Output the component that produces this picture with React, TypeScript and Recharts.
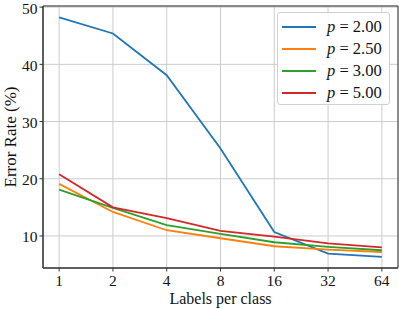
import React from 'react'
import {
  LineChart,
  Line,
  XAxis,
  YAxis,
  CartesianGrid,
  Legend,
  ReferenceArea,
  Label,
} from 'recharts'

// labels per class (log-spaced x axis)
const labelsPerClass = [1, 2, 4, 8, 16, 32, 64]
const minorTicks = [0.9, 3, 5, 6, 7, 9, 10, 20, 30, 40, 50, 60, 70]
const yTicks = [10, 20, 30, 40, 50]

// error rate (%) for each p
const pValues = [2, 2.5, 3, 5]
const errP200 = [48.2, 45.4, 38.1, 25.3, 10.7, 6.9, 6.35]
const errP250 = [19.1, 14.2, 11.0, 9.6, 8.2, 7.6, 7.2]
const errP300 = [18.1, 14.9, 11.9, 10.35, 8.9, 8.1, 7.5]
const errP500 = [20.8, 15.0, 13.1, 10.9, 9.9, 8.7, 8.0]

const colors = ['#1f77b4', '#ff7f0e', '#2ca02c', '#d62728']
const seriesKeys = ['p200', 'p250', 'p300', 'p500']

const data = labelsPerClass.map((x, i) => ({
  x,
  p200: errP200[i],
  p250: errP250[i],
  p300: errP300[i],
  p500: errP500[i],
}))

const X_DOMAIN: [number, number] = [Math.pow(2, -0.3), Math.pow(2, 6.3)]
const Y_DOMAIN: [number, number] = [4.4, 50.2]

const FONT = '"Liberation Serif", "DejaVu Serif", serif'
const tickStyle = { fontSize: 15.5, fill: '#111', fontFamily: FONT }

function LegendBox() {
  return (
    <div
      style={{
        width: 113,
        height: 93,
        boxSizing: 'border-box',
        border: '1px solid #d0d0d0',
        borderRadius: 3,
        background: 'rgba(255,255,255,0.85)',
        padding: '3px 0 0 4px',
        fontFamily: FONT,
        fontSize: 16.5,
        color: '#111',
      }}
    >
      {pValues.map((p, i) => (
        <div key={p} style={{ display: 'flex', alignItems: 'center', height: 22 }}>
          <div style={{ width: 34, height: 2, background: colors[i], marginRight: 11 }} />
          <span><i>p</i> = {p.toFixed(2)}</span>
        </div>
      ))}
    </div>
  )
}

export default function App() {
  return (
    <div style={{ position: 'absolute', left: 0, top: 0 }}>
      <LineChart width={399} height={309} data={data} margin={{ top: 6, right: 1, left: 0, bottom: 0 }}>
        <CartesianGrid stroke="#cccccc" strokeWidth={1} />
        <XAxis
          xAxisId="minor"
          dataKey="x"
          type="number"
          scale="log"
          domain={X_DOMAIN}
          allowDataOverflow
          ticks={minorTicks}
          interval={0}
          height={0}
          axisLine={false}
          tickLine={{ stroke: '#333' }}
          tickSize={2}
          tickFormatter={() => ''}
        />
        <XAxis
          dataKey="x"
          type="number"
          scale="log"
          domain={X_DOMAIN}
          allowDataOverflow
          ticks={labelsPerClass}
          interval={0}
          height={41}
          axisLine={{ stroke: '#333' }}
          tickLine={{ stroke: '#333' }}
          tickSize={3.5}
          tickMargin={3.5}
          tick={tickStyle}
        >
          <Label
            content={({ viewBox }: any) => (
              <text
                x={viewBox.x + viewBox.width / 2}
                y={viewBox.y + 36}
                textAnchor="middle"
                style={{ fontSize: 16, fontFamily: FONT, fill: '#111' }}
              >
                Labels per class
              </text>
            )}
          />
        </XAxis>
        <YAxis
          type="number"
          domain={Y_DOMAIN}
          allowDataOverflow
          ticks={yTicks}
          interval={0}
          width={43}
          axisLine={{ stroke: '#333' }}
          tickLine={{ stroke: '#333' }}
          tickSize={3.5}
          tick={{ ...tickStyle, dy: 1 }}
        >
          <Label
            content={({ viewBox }: any) => (
              <text
                x={15.5}
                y={viewBox.y + viewBox.height / 2}
                textAnchor="middle"
                transform={`rotate(-90, 15.5, ${viewBox.y + viewBox.height / 2})`}
                style={{ fontSize: 17, fontFamily: FONT, fill: '#111' }}
              >
                Error Rate (%)
              </text>
            )}
          />
        </YAxis>
        <ReferenceArea
          x1={X_DOMAIN[0]}
          x2={X_DOMAIN[1]}
          y1={Y_DOMAIN[0]}
          y2={Y_DOMAIN[1]}
          fill="none"
          stroke="#333"
          strokeWidth={1}
          ifOverflow="visible"
        />
        {seriesKeys.map((k, i) => (
          <Line
            key={k}
            dataKey={k}
            stroke={colors[i]}
            strokeWidth={1.8}
            dot={false}
            isAnimationActive={false}
          />
        ))}
        <Legend
          layout="vertical"
          align="center"
          verticalAlign="middle"
          wrapperStyle={{ position: 'absolute', top: 12, left: 277, width: 113 }}
          content={() => <LegendBox />}
        />
      </LineChart>
    </div>
  )
}
